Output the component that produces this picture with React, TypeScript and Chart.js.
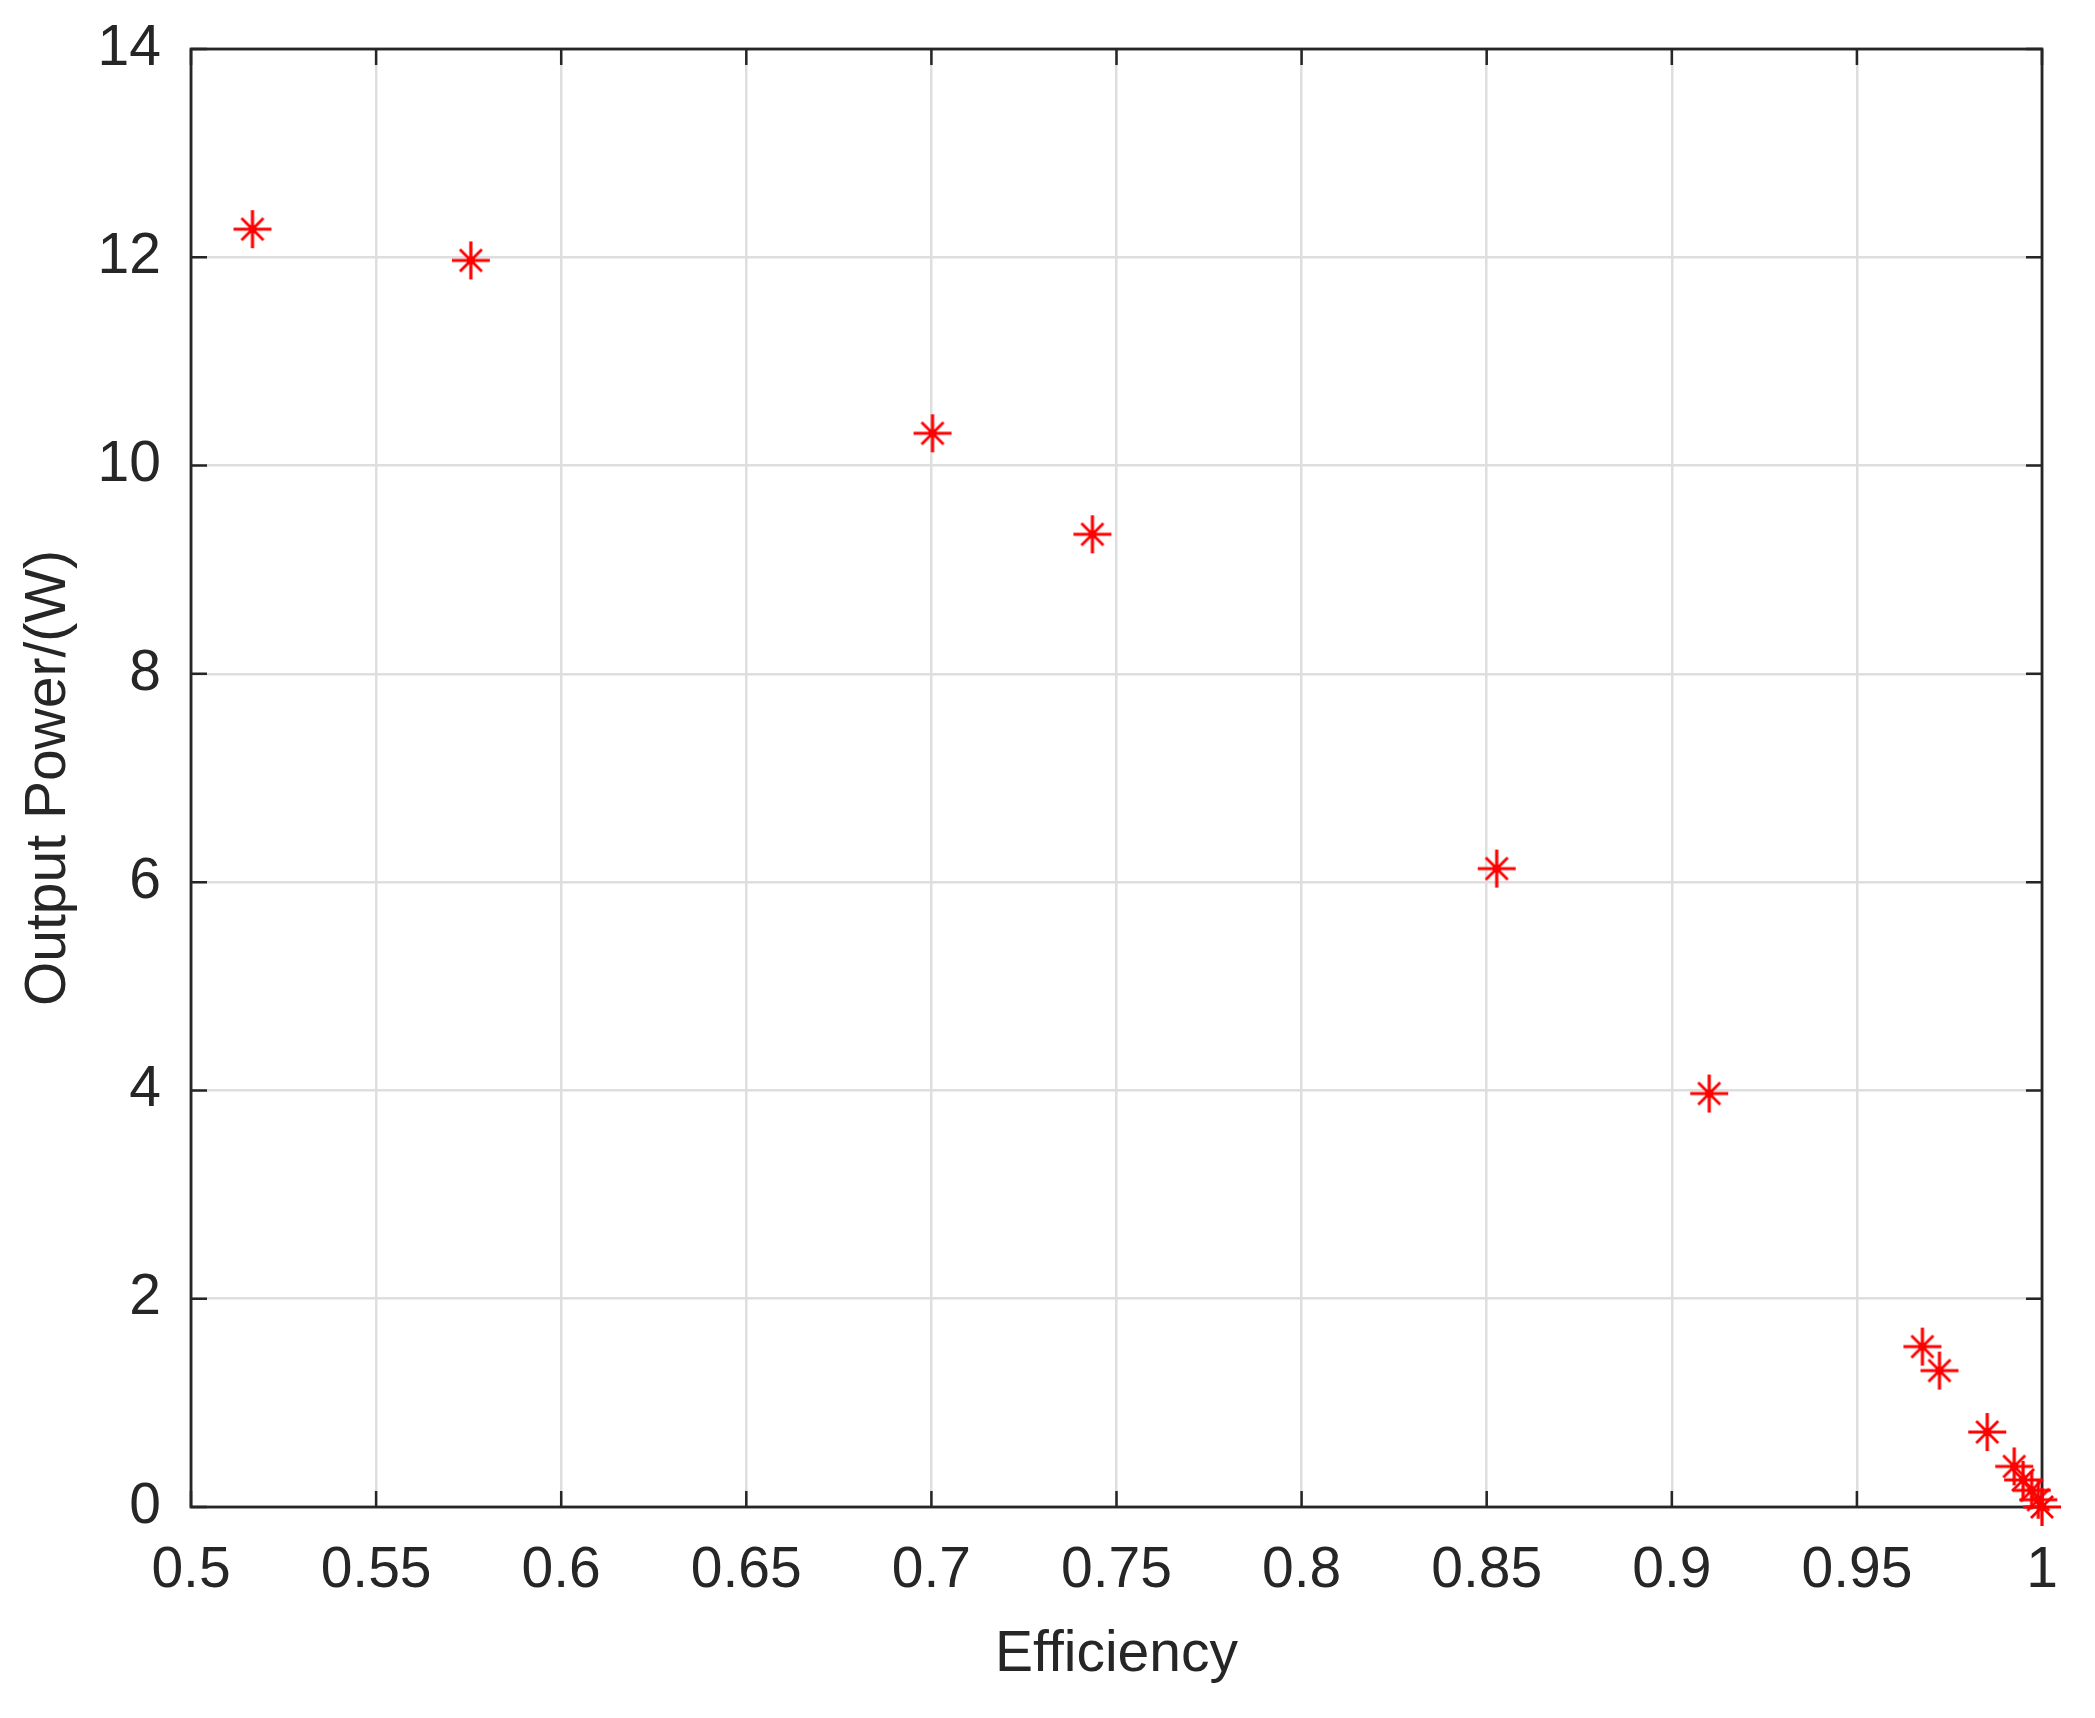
import React, { useEffect, useRef } from "react";
import { Chart, registerables } from "chart.js";

Chart.register(...registerables);

const efficiency = [0.5166, 0.5756, 0.7003, 0.7435, 0.8527, 0.9101, 0.9677, 0.9723, 0.9852, 0.9925, 0.9949, 0.9972, 0.999, 1.0];
const outputPower = [12.27, 11.97, 10.31, 9.34, 6.13, 3.97, 1.54, 1.31, 0.72, 0.39, 0.26, 0.16, 0.07, 0.0];

const xTickValues = [0.5, 0.55, 0.6, 0.65, 0.7, 0.75, 0.8, 0.85, 0.9, 0.95, 1];
const xTickLabels = ["0.5", "0.55", "0.6", "0.65", "0.7", "0.75", "0.8", "0.85", "0.9", "0.95", "1"];
const yTickValues = [0, 2, 4, 6, 8, 10, 12, 14];
const yTickLabels = ["0", "2", "4", "6", "8", "10", "12", "14"];

const W = 2095;
const H = 1718;
const FONT = "'Liberation Sans', Arial, Helvetica, sans-serif";
const TEXT = "#262626";

function makeStar(): HTMLCanvasElement {
  const c = document.createElement("canvas");
  c.width = 42;
  c.height = 42;
  const g = c.getContext("2d")!;
  const cx = 21, cy = 21, r = 19, d = 11;
  g.strokeStyle = "#ff0000";
  g.lineCap = "butt";
  g.lineWidth = 3.2;
  g.beginPath();
  g.moveTo(cx - r, cy); g.lineTo(cx + r, cy);
  g.moveTo(cx, cy - r); g.lineTo(cx, cy + r);
  g.stroke();
  g.lineWidth = 2.8;
  g.beginPath();
  g.moveTo(cx - d, cy - d); g.lineTo(cx + d, cy + d);
  g.moveTo(cx - d, cy + d); g.lineTo(cx + d, cy - d);
  g.stroke();
  g.fillStyle = "#ff0000";
  g.fillRect(cx - 4, cy - 4, 8, 8);
  return c;
}

const boxPlugin = {
  id: "matlabBox",
  beforeDatasetsDraw(chart: any) {
    const { ctx, chartArea } = chart;
    const { left, right, top, bottom } = chartArea;
    const xs = chart.scales.x;
    const ys = chart.scales.y;
    const tl = 16;
    ctx.save();
    ctx.strokeStyle = TEXT;
    ctx.lineWidth = 2.5;
    xs.ticks.forEach((t: any) => {
      const px = xs.getPixelForValue(t.value);
      ctx.beginPath();
      ctx.moveTo(px, bottom); ctx.lineTo(px, bottom - tl);
      ctx.moveTo(px, top); ctx.lineTo(px, top + tl);
      ctx.stroke();
    });
    ys.ticks.forEach((t: any) => {
      const py = ys.getPixelForValue(t.value);
      ctx.beginPath();
      ctx.moveTo(left, py); ctx.lineTo(left + tl, py);
      ctx.moveTo(right, py); ctx.lineTo(right - tl, py);
      ctx.stroke();
    });
    ctx.lineWidth = 2.8;
    ctx.strokeRect(left, top, right - left, bottom - top);
    ctx.restore();
  },
};

export default function App() {
  const ref = useRef<HTMLCanvasElement>(null);

  useEffect(() => {
    document.body.style.margin = "0";
    const canvas = ref.current!;
    const star = makeStar();
    const chart = new Chart(canvas, {
      type: "scatter",
      data: {
        datasets: [
          {
            data: efficiency.map((e, i) => ({ x: e, y: outputPower[i] })),
            pointStyle: star as any,
            pointRadius: 19,
            borderColor: "#ff0000",
            backgroundColor: "#ff0000",
            showLine: false,
            clip: false as any,
          },
        ],
      },
      options: {
        responsive: false,
        animation: false,
        devicePixelRatio: 1,
        layout: { padding: { left: 0, right: 53, top: 49, bottom: 0 } },
        plugins: { legend: { display: false }, tooltip: { enabled: false } },
        scales: {
          x: {
            type: "linear",
            min: 0.5,
            max: 1,
            afterFit: (s: any) => { s.height = H - 1507; s.paddingLeft = 0; s.paddingRight = 0; },
            afterBuildTicks: (s: any) => { s.ticks = xTickValues.map((v) => ({ value: v })); },
            ticks: {
              callback: (v: any) => { const i = xTickValues.findIndex((t) => Math.abs(t - v) < 1e-9); return i >= 0 ? xTickLabels[i] : ""; },
              font: { family: FONT, size: 57 },
              color: TEXT,
              padding: 30,
              maxRotation: 0,
              autoSkip: false,
            },
            grid: { color: "#dedede", lineWidth: 2.5, drawTicks: false },
            border: { display: false },
            title: { display: true, text: "Efficiency", font: { family: FONT, size: 57 }, color: TEXT, padding: { top: 0, bottom: 29 } },
          },
          y: {
            type: "linear",
            min: 0,
            max: 14,
            afterFit: (s: any) => { s.width = 191; s.paddingTop = 0; s.paddingBottom = 0; },
            afterBuildTicks: (s: any) => { s.ticks = yTickValues.map((v) => ({ value: v })); },
            ticks: {
              callback: (v: any) => { const i = yTickValues.indexOf(v); return i >= 0 ? yTickLabels[i] : ""; },
              font: { family: FONT, size: 57 },
              color: TEXT,
              padding: 30,
              autoSkip: false,
            },
            grid: { color: "#dedede", lineWidth: 2.5, drawTicks: false },
            border: { display: false },
            title: { display: true, text: "Output Power/(W)", font: { family: FONT, size: 57 }, color: TEXT, padding: { top: 15, bottom: 0 } },
          },
        },
      },
      plugins: [boxPlugin],
    });
    return () => chart.destroy();
  }, []);

  return <canvas ref={ref} width={W} height={H} style={{ display: "block", width: W, height: H }} />;
}
